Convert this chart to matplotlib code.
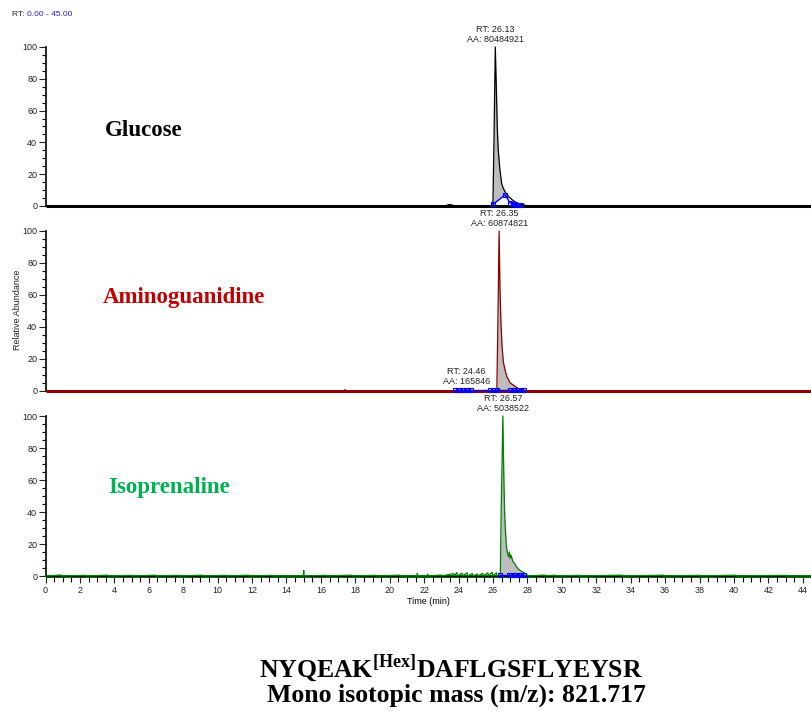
import numpy as np
import matplotlib
matplotlib.use("Agg")
import matplotlib.pyplot as plt
from matplotlib.ticker import MultipleLocator

# ---------------- data ----------------
x_ticks = list(range(0, 45, 2))
y_ticks = [0, 20, 40, 60, 80, 100]

sample_names = ["Glucose", "Aminoguanidine", "Isoprenaline"]
sample_colors = ["#000000", "#C00000", "#00B050"]
trace_colors = ["#000000", "#8B0000", "#008000"]

peak_rt = [26.13, 26.35, 26.57]
peak_aa = ["80484921", "60874821", "5038522"]

# Glucose trace (time, relative abundance)
glc_time = [0.0, 23.2, 23.35, 23.5, 23.65, 23.8, 25.90, 25.99, 26.06, 26.13, 26.20, 26.25,
            26.30, 26.40, 26.50, 26.60, 26.75, 26.90, 27.10, 27.30, 27.50, 27.70, 27.90,
            28.20, 44.5]
glc_int = [0.0, 0.0, 0.6, 0.9, 0.5, 0.0, 0.0, 0.5, 45.0, 100.0, 70.0, 48.0,
           35.0, 22.6, 14.0, 11.0, 8.0, 6.0, 4.0, 2.5, 1.5, 1.0, 0.3,
           0.0, 0.0]

# Aminoguanidine trace
ami_time = [0.0, 17.3, 17.4, 17.5, 26.15, 26.22, 26.29, 26.35, 26.40, 26.45, 26.52, 26.60,
            26.70, 26.80, 26.90, 27.00, 27.20, 27.40, 27.60, 27.80, 28.00, 44.5]
ami_int = [0.0, 0.0, 0.8, 0.0, 0.0, 0.5, 50.0, 100.0, 65.0, 45.0, 28.0, 18.0,
           13.0, 9.0, 7.0, 5.0, 3.5, 2.0, 1.0, 0.4, 0.0, 0.0]

# Isoprenaline trace (noisy baseline)
iso_time = [0.0, 0.9, 0.92, 2.3, 2.32, 3.6, 3.62, 5.0, 5.02, 6.4, 6.42, 7.7, 7.72,
            9.1, 9.12, 10.5, 10.52, 11.8, 11.82, 13.2, 13.22, 14.97, 15.0, 15.03,
            16.3, 16.32, 17.8, 17.82, 19.2, 19.22, 20.6, 20.62, 21.57, 21.6, 21.63,
            22.17, 22.2, 22.23, 23.0, 23.02, 23.7, 23.72, 23.9, 23.92, 24.2, 24.22,
            24.5, 24.52, 24.8, 24.82, 25.1, 25.12, 25.4, 25.42, 25.7, 25.72, 25.95, 25.97,
            26.2, 26.22, 26.42, 26.47, 26.57, 26.62, 26.67, 26.72, 26.78, 26.85, 26.90,
            26.95, 27.00, 27.05, 27.15, 27.25, 27.35, 27.50, 27.65, 27.80, 28.00, 28.10,
            29.0, 29.02, 29.6, 29.62, 31.0, 31.02, 33.5, 33.52, 35.9, 35.92, 38.0, 38.02,
            40.1, 40.12, 43.0, 43.02, 44.5]
iso_int = [0.0, 0.6, 0.0, 0.4, 0.0, 0.5, 0.0, 0.4, 0.0, 0.5, 0.0, 0.4, 0.0,
           0.5, 0.0, 0.4, 0.0, 0.5, 0.0, 0.4, 0.0, 0.0, 3.5, 0.0,
           0.4, 0.0, 0.5, 0.0, 0.4, 0.0, 0.5, 0.0, 0.0, 1.6, 0.0,
           0.0, 1.2, 0.0, 0.6, 0.0, 1.5, 0.0, 2.2, 0.0, 1.8, 0.0,
           2.0, 0.0, 1.5, 0.0, 1.2, 0.0, 1.6, 0.0, 2.0, 0.0, 2.4, 0.0,
           2.0, 0.0, 0.5, 40.0, 100.0, 65.0, 40.0, 28.0, 18.0, 14.0, 12.0,
           15.0, 11.0, 13.0, 9.0, 8.0, 6.0, 4.0, 3.0, 2.0, 0.5, 0.0,
           0.6, 0.0, 0.5, 0.0, 0.4, 0.0, 0.5, 0.0, 0.5, 0.0, 0.4, 0.0,
           0.5, 0.0, 0.4, 0.0, 0.0]

traces_time = [glc_time, ami_time, iso_time]
traces_int = [glc_int, ami_int, iso_int]

# integration baselines (blue)
glc_base_t = [25.99, 26.70, 26.98, 27.15, 27.30, 27.45, 27.60]
glc_base_y = [1.0, 7.0, 2.0, 1.5, 0.6, 0.6, 0.6]
ami_base_t = [23.80, 23.95, 24.10, 24.25, 24.40, 24.55, 24.70, 25.85, 26.00, 26.15, 26.25,
              27.00, 27.15, 27.30, 27.45, 27.60, 27.78]
ami_base_y = [0.4] * 17
iso_base_t = [26.42, 26.90, 27.05, 27.20, 27.35, 27.50, 27.65, 27.80]
iso_base_y = [0.4] * 8
bases_t = [glc_base_t, ami_base_t, iso_base_t]
bases_y = [glc_base_y, ami_base_y, iso_base_y]

# fill ranges (integrated peak area)
fill_ranges = [(25.99, 27.0), (26.22, 27.78), (26.42, 27.80)]

# minor peak annotation in aminoguanidine
minor_rt = 24.46
minor_aa = "165846"

# ---------------- figure ----------------
plt.rcParams["font.family"] = ["Liberation Sans", "DejaVu Sans"]
plt.rcParams["mathtext.fontset"] = "custom"
plt.rcParams["mathtext.rm"] = "Liberation Serif"
plt.rcParams["mathtext.bf"] = "Liberation Serif:bold"
fig = plt.figure(figsize=(8.11, 7.11), dpi=100)

W, H = 811.0, 711.0
left_px = 45.5
xmax = 44.47
tops = [47, 231, 416]
bottoms = [206, 391, 576]
label_pos = [(105, 131), (103, 297), (108, 487)]

axes = []
for i in range(3):
    ax = fig.add_axes([left_px / W, 1 - bottoms[i] / H, 1 - left_px / W,
                       (bottoms[i] - tops[i]) / H])
    axes.append(ax)
    t = np.array(traces_time[i])
    y = np.array(traces_int[i])
    lo, hi = fill_ranges[i]
    mask = (t >= lo) & (t <= hi)
    bt = np.array(bases_t[i]); by = np.array(bases_y[i])
    base_interp = np.interp(t[mask], bt, by) if i == 0 else np.zeros(mask.sum())
    ax.fill_between(t[mask], np.minimum(base_interp, y[mask]), y[mask],
                    color="#BDBDBD", lw=0, zorder=1)
    ax.plot(t, y, color=trace_colors[i], lw=0.9, zorder=3, clip_on=False)
    ax.plot([0, xmax], [0, 0], color=trace_colors[i], lw=2.2, zorder=2,
            clip_on=False, solid_capstyle="butt")
    ax.plot(bt, by, color="#0000FF", lw=1.0, marker="s", ms=2.5, mfc="none",
            mec="#0000FF", mew=0.8, zorder=4, clip_on=False)

    ax.set_xlim(0, xmax)
    ax.set_ylim(0, 100)
    for s in ["top", "right"]:
        ax.spines[s].set_visible(False)
    ax.spines["left"].set_linewidth(1.2)
    ax.yaxis.set_major_locator(MultipleLocator(20))
    ax.yaxis.set_minor_locator(MultipleLocator(5))
    ax.set_yticks(y_ticks)
    ax.tick_params(axis="y", which="major", length=5, width=0.8, labelsize=6.5,
                   pad=1, colors="#222222")
    ax.tick_params(axis="y", which="minor", length=3, width=0.8)
    if i < 2:
        ax.spines["bottom"].set_visible(False)
        ax.set_xticks([])
    else:
        ax.spines["bottom"].set_linewidth(1.0)
        ax.set_xticks(x_ticks)
        ax.xaxis.set_minor_locator(MultipleLocator(0.5))
        ax.tick_params(axis="x", which="major", length=5, width=0.8, labelsize=6.5,
                       pad=2, colors="#222222")
        ax.tick_params(axis="x", which="minor", length=4, width=0.8)
        ax.set_xlabel("Time (min)", fontsize=6.5, labelpad=2)

    ax.text(peak_rt[i], 102, f"RT: {peak_rt[i]:.2f}\nAA: {peak_aa[i]}",
            ha="center", va="bottom", fontsize=6.5, color="#222222",
            linespacing=1.1, clip_on=False)
    fig.text(label_pos[i][0] / W, 1 - label_pos[i][1] / H, sample_names[i],
             ha="left", va="center", fontsize=16.5, fontweight="bold",
             family="Liberation Serif", color=sample_colors[i])

axes[1].text(minor_rt, 3, f"RT: {minor_rt:.2f}\nAA: {minor_aa}", ha="center",
             va="bottom", fontsize=6.5, color="#222222", linespacing=1.1)
fig.text(18 / W, 1 - 310 / H, "Relative Abundance", rotation=90, ha="center",
         va="center", fontsize=6.5, color="#222222")

fig.text(12 / W, 1 - 15 / H, "RT: ", ha="left", va="center", fontsize=6,
         color="#222222")
fig.text(27 / W, 1 - 15 / H, "0.00 - 45.00", ha="left", va="center", fontsize=6,
         color="#2020C0")

fig.text(451 / W, 1 - 677 / H,
         r"$\mathbf{NYQEAK}^{\mathbf{[Hex]}}\mathbf{DAFLGSFLYEYSR}$",
         ha="center", va="baseline", fontsize=18.5)
fig.text(456 / W, 1 - 702 / H, "Mono isotopic mass (m/z): 821.717",
         ha="center", va="baseline", fontsize=18.5, fontweight="bold",
         family="Liberation Serif")

fig.savefig("out.png", dpi=100)
